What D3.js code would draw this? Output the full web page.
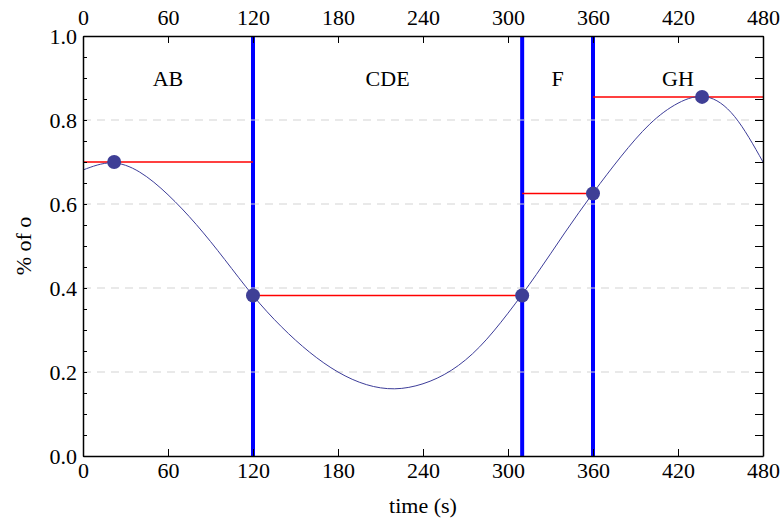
<!DOCTYPE html>
<html>
<head>
<meta charset="utf-8">
<script src="https://cdn.jsdelivr.net/npm/d3@7"></script>
<style>
  body { margin: 0; background: #fff; }
  text { font-family: "Liberation Serif", "Times New Roman", serif; fill: #000; }
</style>
</head>
<body>
<div id="chart"></div>
<script>
// curve samples (time in s, fraction of o)
var times  = [0, 20, 40, 60, 80, 100, 120, 140, 160, 180, 200, 220, 240,
              260, 280, 300, 320, 340, 360, 380, 400, 420, 440, 460, 480];
var values = [0.681, 0.698, 0.676, 0.622, 0.551, 0.468, 0.382, 0.308, 0.247, 0.200, 0.170, 0.160, 0.172,
              0.204, 0.260, 0.340, 0.432, 0.531, 0.626, 0.714, 0.790, 0.840, 0.855, 0.808, 0.700];

// phase boundaries, segments and their levels
var boundaries = [120, 310, 360];
var segLabels = ["AB", "CDE", "F", "GH"];
var segStart  = [0, 120, 310, 360];
var segEnd    = [120, 310, 360, 480];
var segLevel  = [0.70, 0.382, 0.625, 0.855];
var labelX    = [60, 215, 335, 420];

// highlighted points
var dotT = [22, 120, 310, 360, 437];
var dotV = [0.70, 0.382, 0.382, 0.625, 0.855];

var xTicks = [0, 60, 120, 180, 240, 300, 360, 420, 480];

function init() {
    var W = 780, H = 521;
    var margin = {top: 36, right: 17, bottom: 65, left: 83};
    var w = W - margin.left - margin.right;
    var h = H - margin.top - margin.bottom;

    var svg = d3.select("#chart").append("svg")
        .attr("width", W)
        .attr("height", H);
    var g = svg.append("g")
        .attr("transform", "translate(" + margin.left + "," + margin.top + ")");

    var x = d3.scaleLinear().domain([0, 480]).range([0, w]);
    var y = d3.scaleLinear().domain([0, 1]).range([h, 0]);

    // vertical phase boundaries
    g.selectAll(".bound")
        .data(boundaries)
        .enter().append("line")
        .attr("x1", function(d) { return x(d); })
        .attr("x2", function(d) { return x(d); })
        .attr("y1", 0).attr("y2", h)
        .attr("stroke", "#0000ff")
        .attr("stroke-width", 4);

    // dashed horizontal grid
    g.selectAll(".grid")
        .data([0.2, 0.4, 0.6, 0.8])
        .enter().append("line")
        .attr("x1", 0).attr("x2", w)
        .attr("y1", function(d) { return y(d); })
        .attr("y2", function(d) { return y(d); })
        .attr("stroke", "#d3d3d3")
        .attr("stroke-width", 1)
        .attr("stroke-dasharray", "8,6");

    // red level segments
    g.selectAll(".level")
        .data(segLevel)
        .enter().append("line")
        .attr("x1", function(d, i) { return x(segStart[i]); })
        .attr("x2", function(d, i) { return x(segEnd[i]); })
        .attr("y1", function(d) { return y(d); })
        .attr("y2", function(d) { return y(d); })
        .attr("stroke", "#ff0000")
        .attr("stroke-width", 1.5);

    // the curve
    var line = d3.line()
        .x(function(d, i) { return x(times[i]); })
        .y(function(d) { return y(d); })
        .curve(d3.curveNatural);

    g.append("path")
        .datum(values)
        .attr("d", line)
        .attr("fill", "none")
        .attr("stroke", "#3d3d99")
        .attr("stroke-width", 1);

    // dots
    g.selectAll(".dot")
        .data(dotV)
        .enter().append("circle")
        .attr("cx", function(d, i) { return x(dotT[i]); })
        .attr("cy", function(d) { return y(d); })
        .attr("r", 7)
        .attr("fill", "#3f3f96");

    // phase labels
    g.selectAll(".seglabel")
        .data(segLabels)
        .enter().append("text")
        .attr("x", function(d, i) { return x(labelX[i]); })
        .attr("y", y(0.9))
        .attr("dy", "0.35em")
        .attr("text-anchor", "middle")
        .style("font-size", "22px")
        .text(function(d) { return d; });

    // axes: ticks inward
    var bottom = d3.axisBottom(x).tickValues(xTicks).tickSizeInner(-7).tickSizeOuter(0).tickPadding(6);
    var top = d3.axisTop(x).tickValues(xTicks).tickSizeInner(-7).tickSizeOuter(0).tickPadding(11);
    var left = d3.axisLeft(y).tickValues(d3.range(0, 1.0001, 0.05))
        .tickSizeInner(-4).tickSizeOuter(0).tickPadding(6)
        .tickFormat(function(d) {
            var k = Math.round(d * 100);
            return k % 20 === 0 ? d3.format(".1f")(d) : "";
        });
    var right = d3.axisRight(y).tickValues(d3.range(0, 1.0001, 0.05))
        .tickSizeInner(-8).tickSizeOuter(0).tickFormat("");

    var axes = [
        g.append("g").attr("transform", "translate(0," + h + ")").call(bottom),
        g.append("g").call(top),
        g.append("g").call(left),
        g.append("g").attr("transform", "translate(" + w + ",0)").call(right)
    ];
    axes.forEach(function(a) {
        a.attr("font-family", null).attr("font-size", null);
        a.selectAll("text").style("font-size", "22px")
            .style("font-family", "'Liberation Serif', 'Times New Roman', serif");
        a.select(".domain").attr("stroke", "#000").attr("stroke-width", 1.5);
        a.selectAll(".tick line").attr("stroke", "#000").attr("stroke-width", 1);
    });

    // axis titles
    svg.append("text")
        .attr("x", margin.left + w / 2)
        .attr("y", 513)
        .attr("text-anchor", "middle")
        .style("font-size", "22px")
        .text("time (s)");

    svg.append("text")
        .attr("transform", "translate(31," + (margin.top + h / 2) + ") rotate(-90)")
        .attr("text-anchor", "middle")
        .style("font-size", "22px")
        .text("% of o");
}

window.onload = init;
</script>
</body>
</html>
